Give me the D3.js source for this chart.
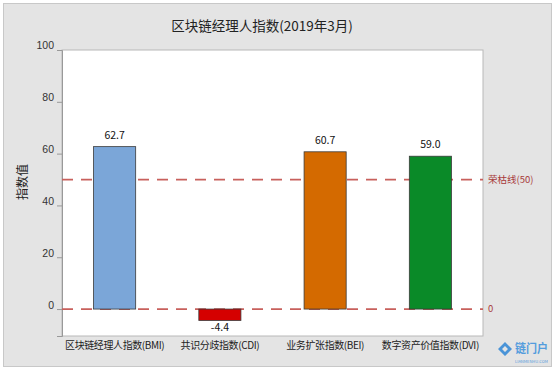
<!DOCTYPE html>
<html>
<head>
<meta charset="utf-8">
<script src="https://cdn.jsdelivr.net/npm/d3@7"></script>
<style>
  body { margin: 0; background: #fff; }
  svg { display: block; font-family: "Noto Sans CJK SC", "Noto Sans", sans-serif; }
</style>
</head>
<body>
<svg width="555" height="370"></svg>
<script>
const categories = ["区块链经理人指数(BMI)", "共识分歧指数(CDI)", "业务扩张指数(BEI)", "数字资产价值指数(DVI)"];
const values = [62.7, -4.4, 60.7, 59.0];
const labels = ["62.7", "-4.4", "60.7", "59.0"];
const barColors = ["#7ba6d8", "#d50000", "#d46a00", "#0a8a28"];
const yTicks = [0, 20, 40, 60, 80, 100];
const refLines = [{ v: 50, text: "荣枯线(50)" }, { v: 0, text: "0" }];

const svg = d3.select("svg");
const W = 555, H = 370;
const plot = { left: 62, right: 483, top: 50, bottom: 336 };

// outer panel
svg.append("rect")
    .attr("x", 3.5).attr("y", 3.5)
    .attr("width", W - 7).attr("height", H - 7)
    .attr("fill", "#e4e4e4")
    .attr("stroke", "#c8c8c8");

// plot area
svg.append("rect")
    .attr("x", plot.left).attr("y", plot.top)
    .attr("width", plot.right - plot.left).attr("height", plot.bottom - plot.top)
    .attr("fill", "#fff")
    .attr("stroke", "#b8b8b8");

const x = d3.scaleBand()
    .domain(categories)
    .range([plot.left, plot.right])
    .paddingInner(0.6)
    .paddingOuter(0.3);

const y = d3.scaleLinear()
    .domain([-10.4, 100])
    .range([plot.bottom, plot.top]);

// title
svg.append("text")
    .attr("x", 262).attr("y", 31)
    .attr("text-anchor", "middle")
    .attr("font-size", 13.5)
    .attr("fill", "#222")
    .text("区块链经理人指数(2019年3月)");

// y axis
const yAxis = svg.append("g")
    .attr("transform", `translate(${plot.left},0)`)
    .call(d3.axisLeft(y).tickValues(yTicks).tickSize(5).tickPadding(3));
yAxis.select(".domain").attr("stroke", "#999");
yAxis.selectAll(".tick line").attr("stroke", "#999");
yAxis.selectAll(".tick text")
    .attr("font-size", 10.5)
    .attr("fill", "#333")
    .attr("dy", "-0.1em");

svg.append("text")
    .attr("transform", "translate(27,182) rotate(-90)")
    .attr("text-anchor", "middle")
    .attr("font-size", 12)
    .attr("fill", "#222")
    .text("指数值");

// reference lines
const ref = svg.append("g");
ref.selectAll("line")
    .data(refLines)
    .join("line")
    .attr("x1", plot.left).attr("x2", plot.right)
    .attr("y1", d => y(d.v)).attr("y2", d => y(d.v))
    .attr("stroke", "#c8605c")
    .attr("stroke-width", 1.8)
    .attr("stroke-dasharray", "11,8");

ref.selectAll("text")
    .data(refLines)
    .join("text")
    .attr("x", plot.right + 5)
    .attr("y", d => y(d.v) + 3)
    .attr("font-size", 9.5)
    .attr("fill", "#a83a3a")
    .text(d => d.text);

// bars
svg.append("g")
    .selectAll("rect")
    .data(values)
    .join("rect")
    .attr("x", (d, i) => x(categories[i]))
    .attr("width", x.bandwidth())
    .attr("y", d => y(Math.max(0, d)))
    .attr("height", d => Math.abs(y(d) - y(0)))
    .attr("fill", (d, i) => barColors[i])
    .attr("stroke", "#3a3a3a")
    .attr("stroke-width", 0.8);

// value labels
svg.append("g")
    .selectAll("text")
    .data(values)
    .join("text")
    .attr("x", (d, i) => x(categories[i]) + x.bandwidth() / 2)
    .attr("y", d => d >= 0 ? y(d) - 8 : y(d) + 11)
    .attr("text-anchor", "middle")
    .attr("font-size", 10.5)
    .attr("fill", "#111")
    .text((d, i) => labels[i]);

// category labels
svg.append("g")
    .selectAll("text")
    .data(categories)
    .join("text")
    .attr("x", d => x(d) + x.bandwidth() / 2)
    .attr("y", 349)
    .attr("text-anchor", "middle")
    .attr("font-size", 10)
    .attr("letter-spacing", "-0.4px")
    .attr("fill", "#222")
    .text(d => d);

// watermark
const wm = svg.append("g").attr("opacity", 0.85);
wm.append("path")
    .attr("d", "M498,349 L505,342 L512,349 L505,356 Z M502,349 L505,346 L508,349 L505,352 Z")
    .attr("fill", "#2f86d6")
    .attr("fill-rule", "evenodd");
wm.append("text")
    .attr("x", 515).attr("y", 353)
    .attr("font-size", 12)
    .attr("font-weight", "bold")
    .attr("fill", "#3a90dc")
    .attr("textLength", 33)
    .attr("lengthAdjust", "spacingAndGlyphs")
    .text("链门户");
wm.append("text")
    .attr("x", 515).attr("y", 362.5)
    .attr("font-size", 4)
    .attr("fill", "#3a90dc")
    .attr("textLength", 33)
    .attr("lengthAdjust", "spacingAndGlyphs")
    .text("LIANMENHU.COM");
</script>
</body>
</html>
